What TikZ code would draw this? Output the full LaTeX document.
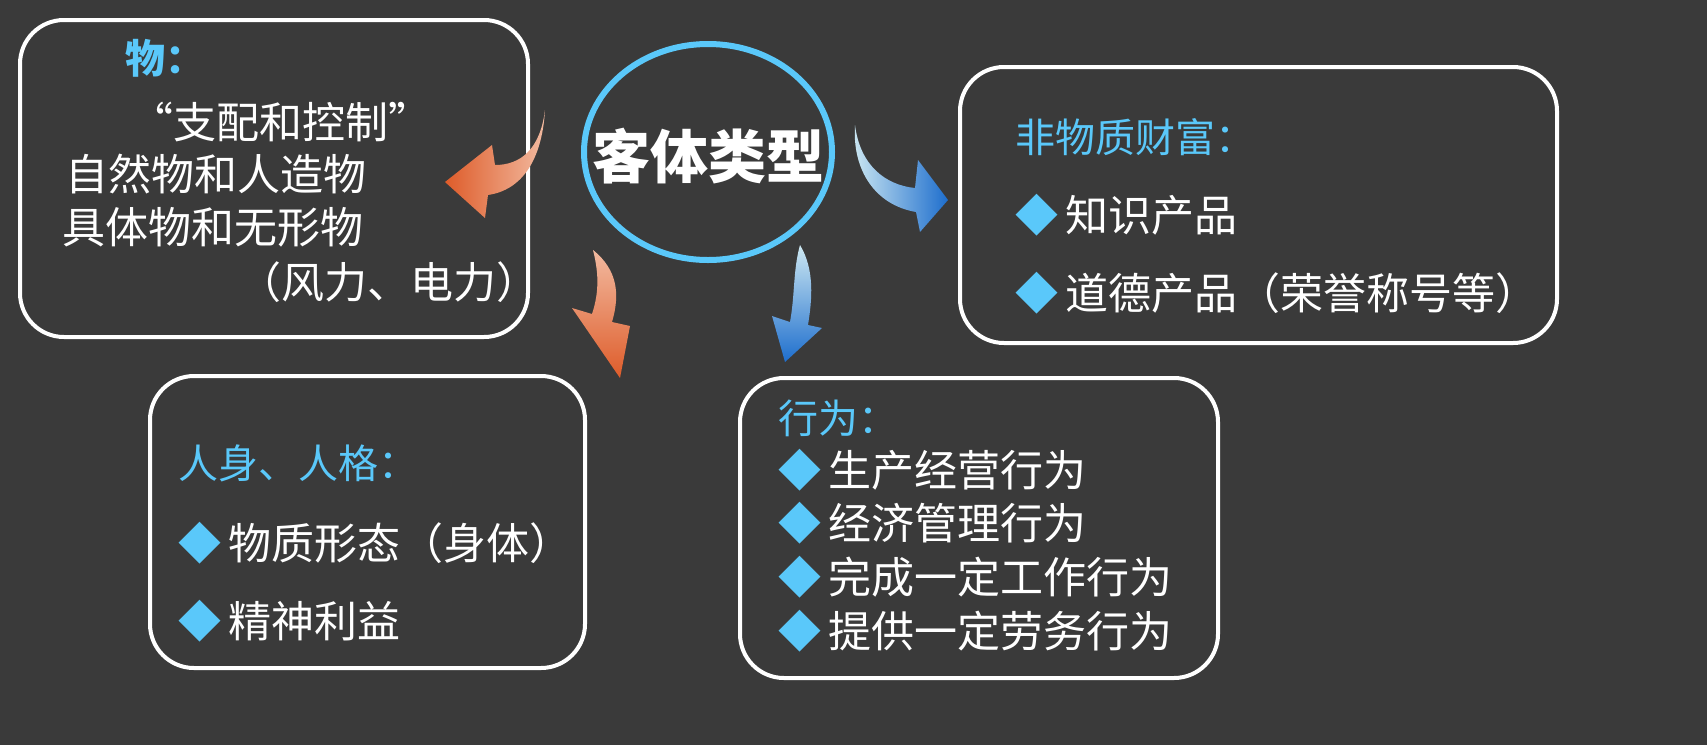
\documentclass[tikz,border=0pt]{standalone}
\usepackage{fontspec}
\setmainfont{Noto Sans CJK SC}
\usetikzlibrary{positioning,shapes.geometric}
\definecolor{bggray}{RGB}{58,58,58}
\definecolor{skyblue}{RGB}{90,200,250}
\definecolor{deeporange}{RGB}{222,92,42}
\definecolor{paleorange}{RGB}{242,186,160}
\definecolor{deepblue}{RGB}{30,110,205}
\definecolor{paleblue}{RGB}{205,232,242}
\tikzstyle{kind_box}=[draw=white, line width=2pt, rounded corners=22pt]
\tikzstyle{kind_head}=[anchor=west, inner sep=0pt, text=skyblue, font=\fontsize{20pt}{24pt}\selectfont]
\tikzstyle{kind_item}=[anchor=west, inner sep=0pt, text=white, font=\fontsize{21.5pt}{26pt}\selectfont]
\newcommand{\dia}{{\color{skyblue}◆}\,}

\begin{document}
\begin{tikzpicture}[x=0.5pt, y=-0.5pt]
  % background
  \fill[bggray] (0,0) rectangle (1707,745);
  \useasboundingbox (0,0) rectangle (1707,745);

  % boxes
  \draw[kind_box] (20,20) rectangle (528,337);
  \draw[kind_box] (960,67) rectangle (1557,343);
  \draw[kind_box] (150,376) rectangle (585,668);
  \draw[kind_box] (740,378) rectangle (1218,678);

  % centre
  \node[draw=skyblue, line width=3pt, ellipse, minimum width=124pt, minimum height=108pt] (center) at (708,152) {};
  \node[text=white, font=\bfseries\fontsize{29pt}{34pt}\selectfont] (title) at (708,156) {客体类型};

  % curved arrows
  \shade[left color=deeporange, right color=paleorange]
    (545,110) .. controls (540,150) and (520,165) .. (495,165) -- (492,145) -- (445,182)
    -- (485,218) -- (488,195) .. controls (522,190) and (542,160) .. (545,110) -- cycle;
  \shade[top color=paleorange, bottom color=deeporange]
    (593,250) .. controls (618,270) and (620,295) .. (612,322) -- (630,326) -- (620,378)
    -- (572,308) -- (592,314) .. controls (600,290) and (598,270) .. (593,250) -- cycle;
  \shade[left color=paleblue, right color=deepblue]
    (855,125) .. controls (860,165) and (885,185) .. (915,188) -- (918,160) -- (948,200)
    -- (920,232) -- (916,212) .. controls (875,205) and (852,170) .. (855,125) -- cycle;
  \shade[top color=paleblue, bottom color=deepblue]
    (800,245) .. controls (815,270) and (812,300) .. (808,325) -- (822,328) -- (785,362)
    -- (772,316) -- (790,322) .. controls (795,295) and (793,270) .. (800,245) -- cycle;

  % things
  \node[kind_head, font=\bfseries\fontsize{20pt}{24pt}\selectfont] (wuHead) at (125,58) {物：};
  \node[kind_item] (wu1) at (130,122) {“支配和控制”};
  \node[kind_item] (wu2) at (65,174) {自然物和人造物};
  \node[kind_item] (wu3) at (62,227) {具体物和无形物};
  \node[kind_item] (wu4) at (238,282) {（风力、电力）};

  % intangible wealth
  \node[kind_head] (feiHead) at (1015,137) {非物质财富：};
  \node[kind_item] (fei1) at (1015,215) {\dia 知识产品};
  \node[kind_item] (fei2) at (1015,293) {\dia 道德产品（荣誉称号等）};

  % person
  \node[kind_head] (renHead) at (178,463) {人身、人格：};
  \node[kind_item] (ren1) at (178,543) {\dia 物质形态（身体）};
  \node[kind_item] (ren2) at (178,621) {\dia 精神利益};

  % behaviour
  \node[kind_head] (xingHead) at (778,418) {行为：};
  \node[kind_item] (xing1) at (778,470) {\dia 生产经营行为};
  \node[kind_item] (xing2) at (778,523) {\dia 经济管理行为};
  \node[kind_item] (xing3) at (778,577) {\dia 完成一定工作行为};
  \node[kind_item] (xing4) at (778,631) {\dia 提供一定劳务行为};
\end{tikzpicture}
\end{document}
